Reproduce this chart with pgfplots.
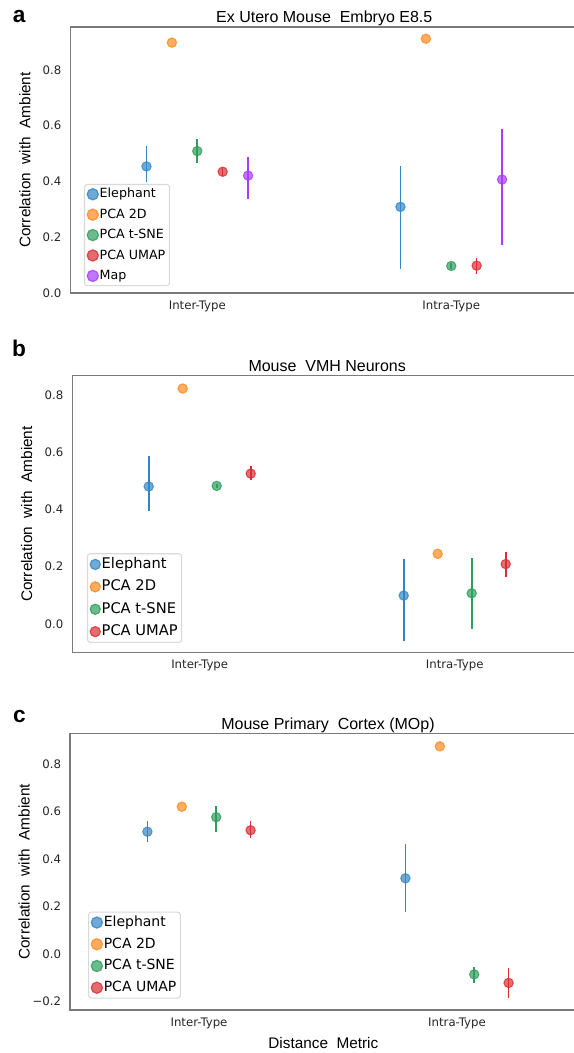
\documentclass[border=0pt]{standalone}
\usepackage{fontspec}
\setmainfont{DejaVu Sans}
\newfontfamily\arial{Liberation Sans}
\usepackage{pgfplots}
\pgfplotsset{compat=1.18}

\definecolor{cblue}{HTML}{3386C6}
\definecolor{corange}{HTML}{FF8A1E}
\definecolor{cgreen}{HTML}{2E9E5E}
\definecolor{cred}{HTML}{D92F33}
\definecolor{cpurple}{HTML}{A83CFF}
\definecolor{spine}{HTML}{7A7A7A}
\definecolor{ticktext}{HTML}{262626}

\pgfplotsset{
  ser/.style={only marks, mark=*, mark size=3.5pt, color=#1,
    mark options={fill=#1, fill opacity=0.7, draw opacity=0.8, line width=0.8pt},
    error bars/y dir=both, error bars/y explicit, error bars/error mark=none,
    error bars/error bar style={line width=1.2pt, draw=#1}},
  leg/.style={only marks, mark=*, mark size=4.2pt, color=#1,
    mark options={fill=#1, fill opacity=0.7, draw opacity=0.8, line width=0.9pt}},
  panel/.style={
    scale only axis,
    xmin=-0.5, xmax=1.5,
    xtick={0,1}, xticklabels={Inter-Type,Intra-Type},
    tick style={draw=none},
    axis line style={spine, line width=0.9pt},
    ticklabel style={font=\fontsize{8.8}{10}\selectfont, text=ticktext},
    yticklabel style={inner sep=0pt, xshift=-6.5pt},
    xticklabel style={inner sep=0pt, yshift=-5.5pt},
    title style={font=\arial\fontsize{12}{14}\selectfont, at={(axis description cs:0.5,1)}, anchor=base, yshift=-3pt},
    ylabel={Correlation\ \ with\ \ Ambient},
    ylabel style={font=\arial\fontsize{11.5}{13}\selectfont, at={(axis description cs:-0.069,0.5)}, anchor=south},
    legend cell align=left,
    legend image code/.code={\draw[##1] plot coordinates {(4.5pt,0pt)};},
    legend style={anchor=north west, draw=black!15, rounded corners=2pt, line width=0.8pt,
      fill=white, inner sep=2pt, row sep=4.6pt,
      nodes={inner sep=1pt, text height=7pt, text depth=1.7pt}},
  },
}

\begin{document}
\begin{tikzpicture}
\useasboundingbox (0pt,0pt) rectangle (430.5pt,-789.75pt);

% ---------- a ----------
\node[anchor=base, font=\arial\bfseries\fontsize{17}{18}\selectfont] at (14.3pt,-17pt) {a};
\begin{axis}[panel,
  at={(52.7pt,-219.75pt)}, anchor=south west,
  width=381pt, height=199.5pt,
  ymin=0, ymax=0.954,
  ytick={0,0.2,0.4,0.6,0.8}, yticklabels={0.0,0.2,0.4,0.6,0.8},
  title={Ex Utero Mouse\ \ Embryo E8.5},
  legend style={at={(0.027,0.41)}, font=\fontsize{9.5}{10}\selectfont},
]
\addlegendimage{leg=cblue}\addlegendentry{Elephant}
\addlegendimage{leg=corange}\addlegendentry{PCA 2D}
\addlegendimage{leg=cgreen}\addlegendentry{PCA t-SNE}
\addlegendimage{leg=cred}\addlegendentry{PCA UMAP}
\addlegendimage{leg=cpurple}\addlegendentry{Map}
\addplot[forget plot, ser=cblue] table[x=x, y=y, y error plus=ep, y error minus=em] {
x y ep em
-0.2 0.454 0.072 0.057
0.8 0.309 0.148 0.222
};
\addplot[forget plot, ser=corange] table[x=x, y=y, y error plus=ep, y error minus=em] {
x y ep em
-0.1 0.898 0 0
0.9 0.912 0 0
};
\addplot[forget plot, ser=cgreen] table[x=x, y=y, y error plus=ep, y error minus=em] {
x y ep em
0.0 0.509 0.043 0.042
1.0 0.097 0.010 0.010
};
\addplot[forget plot, ser=cred] table[x=x, y=y, y error plus=ep, y error minus=em] {
x y ep em
0.1 0.435 0.015 0.017
1.1 0.098 0.029 0.030
};
\addplot[forget plot, ser=cpurple] table[x=x, y=y, y error plus=ep, y error minus=em] {
x y ep em
0.2 0.421 0.067 0.085
1.2 0.407 0.181 0.235
};
\end{axis}

% ---------- b ----------
\node[anchor=base, font=\arial\bfseries\fontsize{17}{18}\selectfont] at (14.3pt,-267.5pt) {b};
\begin{axis}[panel,
  at={(54.15pt,-489.2pt)}, anchor=south west,
  width=382.5pt, height=207.45pt,
  ymin=-0.099, ymax=0.867,
  ytick={0,0.2,0.4,0.6,0.8}, yticklabels={0.0,0.2,0.4,0.6,0.8},
  title={Mouse\ \ VMH Neurons},
  legend style={at={(0.029,0.358)}, font=\fontsize{11}{12}\selectfont, row sep=4.8pt,
    nodes={inner sep=1pt, text height=8pt, text depth=2pt}},
]
\addlegendimage{leg=cblue, mark size=3.8pt}\addlegendentry{Elephant}
\addlegendimage{leg=corange, mark size=3.8pt}\addlegendentry{PCA 2D}
\addlegendimage{leg=cgreen, mark size=3.8pt}\addlegendentry{PCA t-SNE}
\addlegendimage{leg=cred, mark size=3.8pt}\addlegendentry{PCA UMAP}
\addplot[forget plot, ser=cblue] table[x=x, y=y, y error plus=ep, y error minus=em] {
x y ep em
-0.2 0.480 0.108 0.084
0.8 0.099 0.128 0.158
};
\addplot[forget plot, ser=corange] table[x=x, y=y, y error plus=ep, y error minus=em] {
x y ep em
-0.0667 0.822 0 0
0.9333 0.245 0 0
};
\addplot[forget plot, ser=cgreen] table[x=x, y=y, y error plus=ep, y error minus=em] {
x y ep em
0.0667 0.482 0.006 0.006
1.0667 0.107 0.122 0.126
};
\addplot[forget plot, ser=cred] table[x=x, y=y, y error plus=ep, y error minus=em] {
x y ep em
0.2 0.525 0.025 0.022
1.2 0.209 0.043 0.044
};
\end{axis}

% ---------- c ----------
\node[anchor=base, font=\arial\bfseries\fontsize{17}{18}\selectfont] at (14.6pt,-542pt) {c};
\begin{axis}[panel,
  at={(52.5pt,-757.5pt)}, anchor=south west,
  width=387pt, height=207.2pt,
  ymin=-0.235, ymax=0.927,
  ytick={-0.2,0,0.2,0.4,0.6,0.8}, yticklabels={−0.2,0.0,0.2,0.4,0.6,0.8},
  title={Mouse Primary\ \ Cortex (MOp)},
  xlabel={Distance\ \ Metric},
  xlabel style={font=\arial\fontsize{11.5}{13}\selectfont, at={(axis description cs:0.491,0)}, anchor=base, yshift=-29.2pt},
  legend style={at={(0.035,0.356)}, font=\fontsize{10.5}{12}\selectfont, row sep=4.8pt,
    nodes={inner sep=1pt, text height=7.6pt, text depth=1.9pt}},
]
\addlegendimage{leg=cblue}\addlegendentry{Elephant}
\addlegendimage{leg=corange}\addlegendentry{PCA 2D}
\addlegendimage{leg=cgreen}\addlegendentry{PCA t-SNE}
\addlegendimage{leg=cred}\addlegendentry{PCA UMAP}
\addplot[forget plot, ser=cblue] table[x=x, y=y, y error plus=ep, y error minus=em] {
x y ep em
-0.2 0.515 0.045 0.042
0.8 0.319 0.146 0.143
};
\addplot[forget plot, ser=corange] table[x=x, y=y, y error plus=ep, y error minus=em] {
x y ep em
-0.0667 0.620 0 0
0.9333 0.874 0 0
};
\addplot[forget plot, ser=cgreen] table[x=x, y=y, y error plus=ep, y error minus=em] {
x y ep em
0.0667 0.576 0.047 0.063
1.0667 -0.085 0.032 0.035
};
\addplot[forget plot, ser=cred] table[x=x, y=y, y error plus=ep, y error minus=em] {
x y ep em
0.2 0.521 0.038 0.034
1.2 -0.121 0.064 0.062
};
\end{axis}
\end{tikzpicture}
\end{document}
